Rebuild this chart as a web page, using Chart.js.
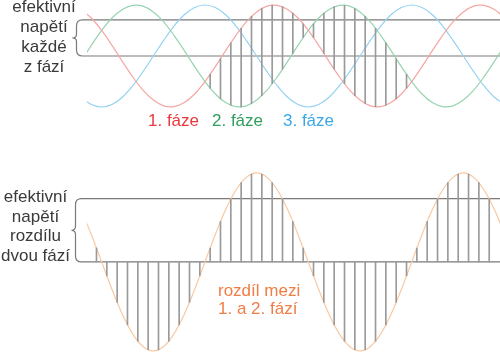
<!DOCTYPE html>
<html><head><meta charset="utf-8">
<script src="https://cdn.jsdelivr.net/npm/chart.js@4.4.1/dist/chart.umd.min.js"></script>
<style>
html,body{margin:0;padding:0;background:#fff;width:500px;height:352px;overflow:hidden;position:relative;font-family:"Liberation Sans",Arial,sans-serif;}
.box{position:absolute;left:0;width:500px;}
.lbl{position:absolute;font-size:17px;line-height:20px;white-space:nowrap;}
</style></head><body>
<div class="box" style="top:0;height:112px"><canvas id="top" width="500" height="112"></canvas></div>
<div class="box" style="top:160px;height:192px"><canvas id="bot" width="500" height="192"></canvas></div>
<div class="lbl" style="left:4px;top:-3px;width:80px;text-align:center;color:#3a3a3a">efektivní<br>napětí<br>každé<br>z fází</div>
<div class="lbl" style="left:-1px;top:187px;width:73px;line-height:19.7px;text-align:center;color:#3a3a3a">efektivní<br>napětí<br>rozdílu<br>dvou fází</div>
<div class="lbl" style="left:148px;top:111px;color:#e8383d">1. fáze</div>
<div class="lbl" style="left:212px;top:111px;color:#2f9e5f">2. fáze</div>
<div class="lbl" style="left:283px;top:111px;color:#3aa8e8">3. fáze</div>
<div class="lbl" style="left:218px;top:282px;line-height:18px;color:#f07d45">rozdíl mezi<br>1. a 2. fází</div>
<script>
// phase angle (degrees) of the sampled points
const phaseDeg = [-216,-198,-180,-162,-144,-126,-108,-90,-72,-54,-36,-18,0,18,36,54,72,90,108,126,144,162,180,198,216,234,252,270,288,306,324,342,360,378,396,414,432,450,468,486,504,522];
// instantaneous voltages (V)
const phase1 = [297,242,163,68,-34,-132,-218,-281,-318,-323,-297,-242,-163,-68,34,132,218,281,318,323,297,242,163,68,-34,-132,-218,-281,-318,-323,-297,-242,-163,-68,34,132,218,281,318,323,297,242];
const phase2 = [-34,68,163,242,297,323,318,281,218,132,34,-68,-163,-242,-297,-323,-318,-281,-218,-132,-34,68,163,242,297,323,318,281,218,132,34,-68,-163,-242,-297,-323,-318,-281,-218,-132,-34,68];
const phase3 = [-263,-309,-325,-309,-263,-191,-100,0,100,191,263,309,325,309,263,191,100,0,-100,-191,-263,-309,-325,-309,-263,-191,-100,0,100,191,263,309,325,309,263,191,100,0,-100,-191,-263,-309];
const diff12 = [331,174,0,-174,-331,-455,-535,-563,-535,-455,-331,-174,0,174,331,455,535,563,535,455,331,174,0,-174,-331,-455,-535,-563,-535,-455,-331,-174,0,174,331,455,535,563,535,455,331,174];
// hatch samples, top panel (between phase 2 and phase 1)
const hatchTopDeg = [9,27,45,63,81,99,117,135,153,171,189,207,225,243,261,279,297,315,333,351];
const hatchTop1 = [-117,-17,84,177,253,303,324,314,273,205,117,17,-84,-177,-253,-303,-324,-314,-273,-205];
const hatchTop2 = [-205,-273,-314,-324,-303,-253,-177,-84,17,117,205,273,314,324,303,253,177,84,-17,-117];
// hatch samples, bottom panel (difference 1-2)
const hatchBotDeg = [-189,-171,-153,-135,-117,-99,-81,-63,-45,-27,-9,9,27,45,63,81,99,117,135,153,171,189,207,225,243,261,279,297,315,333,351,369,387,405,423,441,459,477,495];
const hatchDiff = [88,-88,-256,-398,-502,-556,-556,-502,-398,-256,-88,88,256,398,502,556,556,502,398,256,88,-88,-256,-398,-502,-556,-556,-502,-398,-256,-88,88,256,398,502,556,556,502,398];
// effective (RMS) values
const phaseRms = 230;
const lineRms = 400;

const xMin = -205.5, xMax = 513.8;

const bracePlugin = {
  id: 'brace',
  beforeDatasetsDraw(chart, args, opts) {
    const {ctx, chartArea, scales: {y}} = chart;
    const yt = y.getPixelForValue(opts.top), yb = y.getPixelForValue(0);
    const xv = opts.x, r = 6, tip = 4, ym = (yt + yb) / 2;
    ctx.save();
    ctx.strokeStyle = '#7a7a7a';
    ctx.lineWidth = 1.2;
    ctx.beginPath();
    ctx.moveTo(chartArea.right, yt);
    ctx.lineTo(xv + r, yt);
    ctx.quadraticCurveTo(xv, yt, xv, yt + r);
    ctx.lineTo(xv, ym - 4);
    ctx.quadraticCurveTo(xv, ym, xv - tip, ym);
    ctx.quadraticCurveTo(xv, ym, xv, ym + 4);
    ctx.lineTo(xv, yb - r);
    ctx.quadraticCurveTo(xv, yb, xv + r, yb);
    ctx.lineTo(chartArea.right, yb);
    ctx.stroke();
    ctx.restore();
  }
};

function pts(xs, ys) { return xs.map((x, i) => ({x: x, y: ys[i]})); }
function lineDs(data, color) {
  return {type: 'line', data: data, borderColor: color, borderWidth: 1.2, pointRadius: 0, tension: 0.33, fill: false};
}
function baseOpts(yMin, yMax, braceTop, braceX) {
  return {
    responsive: false, animation: false,
    layout: {padding: {left: 87, right: 0, top: 0, bottom: 0}},
    plugins: {legend: {display: false}, tooltip: {enabled: false}, brace: {top: braceTop, x: braceX}},
    scales: {
      x: {type: 'linear', min: xMin, max: xMax, display: false, offset: false},
      y: {type: 'linear', min: yMin, max: yMax, display: false}
    }
  };
}

new Chart(document.getElementById('top'), {
  type: 'line',
  data: {datasets: [
    {type: 'bar', data: hatchTopDeg.map((d, i) => ({x: d, y: [hatchTop2[i], hatchTop1[i]]})),
     backgroundColor: '#9a9a9a', barThickness: 1, borderWidth: 0, order: 1},
    Object.assign(lineDs(pts(phaseDeg, phase1), '#f4a7a3'), {order: 2}),
    Object.assign(lineDs(pts(phaseDeg, phase2), '#98d4b0'), {order: 2}),
    Object.assign(lineDs(pts(phaseDeg, phase3), '#94d2f2'), {order: 2})
  ]},
  options: baseOpts(-357, 357, phaseRms, 76.5),
  plugins: [bracePlugin]
});

new Chart(document.getElementById('bot'), {
  type: 'line',
  data: {datasets: [
    {type: 'bar', data: hatchBotDeg.map((d, i) => ({x: d, y: [0, hatchDiff[i]]})),
     backgroundColor: '#9a9a9a', barThickness: 1, borderWidth: 0, order: 1},
    Object.assign(lineDs(pts(phaseDeg, diff12), '#f9c9a2'), {order: 2})
  ]},
  options: baseOpts(-570, 645, lineRms, 75.5),
  plugins: [bracePlugin]
});
</script>
</body></html>
